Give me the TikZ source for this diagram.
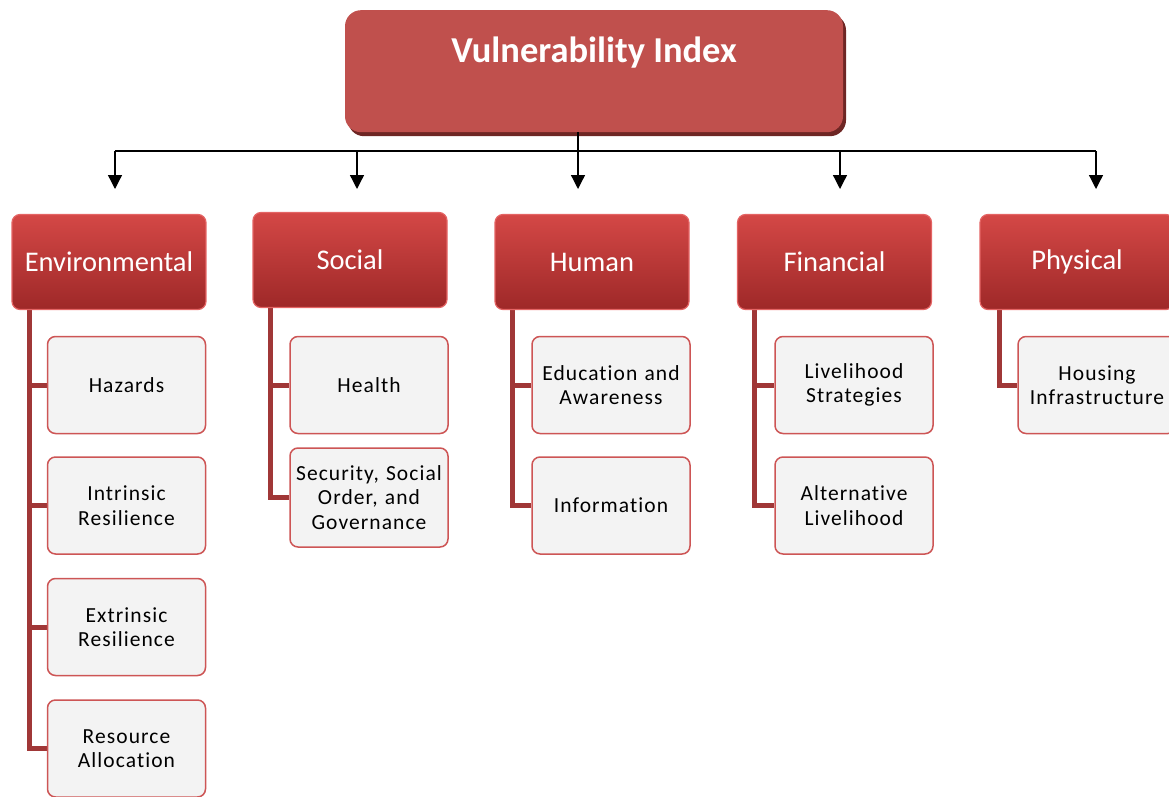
\documentclass[tikz,border=0pt]{standalone}
\usepackage{fontspec}
\setmainfont{Carlito}[Ligatures=NoCommon]
\newfontfamily\childfont{Carlito}[LetterSpace=5, Ligatures=NoCommon]
\usetikzlibrary{shadows,arrows.meta,calc,backgrounds}
\definecolor{topred}{RGB}{192,80,77}
\definecolor{topshadow}{RGB}{110,38,36}
\definecolor{catTop}{RGB}{212,72,70}
\definecolor{catBot}{RGB}{158,40,40}
\definecolor{catBorder}{RGB}{228,100,100}
\definecolor{childFill}{RGB}{243,243,243}
\definecolor{childBorder}{RGB}{205,85,85}
\definecolor{branchRed}{RGB}{160,55,55}
\begin{document}
\begin{tikzpicture}[x=1pt,y=-1pt,
  topbox/.style={rounded corners=16pt, fill=topred, draw=none,
    drop shadow={shadow xshift=3pt, shadow yshift=-4pt, opacity=1, fill=topshadow},
    minimum width=498pt, inner ysep=24pt, text height=28pt, text depth=46pt,
    font=\bfseries\fontsize{36.5}{40}\selectfont, text=white, align=center, anchor=north},
  catbox/.style={rounded corners=8pt, top color=catTop, bottom color=catBot,
    draw=catBorder, line width=1.2pt, minimum width=194pt, minimum height=95pt,
    font=\fontsize{28.5}{32}\selectfont, text=white},
  childbox/.style={rounded corners=8pt, fill=childFill, draw=childBorder,
    line width=1.5pt, minimum width=158pt, minimum height=97pt,
    font=\childfont\fontsize{21.5}{24.5}\selectfont, align=center, text width=154pt, inner xsep=2pt},
  branch/.style={draw=branchRed, line width=5pt},
  busline/.style={draw=black, line width=1.3pt},
  arr/.style={draw=black, line width=1.3pt, -{Triangle[width=14pt,length=14pt]}}
]
\useasboundingbox (0,0) rectangle (1169,797);

% top
\node[topbox] (vi) at (594,10) {Vulnerability Index};

% categories
\node[catbox] (env) at (109,262) {Environmental};
\node[catbox] (soc) at (350,260) {Social};
\node[catbox] (hum) at (592,262) {Human};
\node[catbox] (fin) at (834.5,262) {Financial};
\node[catbox] (phy) at (1077,262) {Physical};

% children
\node[childbox] (haz) at (126.5,385) {Hazards};
\node[childbox] (intr) at (126.5,505.5) {Intrinsic\\Resilience};
\node[childbox] (extr) at (126.5,627) {Extrinsic\\Resilience};
\node[childbox] (res) at (126.5,748.5) {Resource\\Allocation};

\node[childbox] (hea) at (369,385) {Health};
\node[childbox, minimum height=99pt] (sec) at (369,497.5) {Security, Social\\Order, and\\Governance};

\node[childbox] (edu) at (611,385) {Education and\\Awareness};
\node[childbox] (inf) at (611,505.5) {Information};

\node[childbox] (liv) at (854,385) {Livelihood\\Strategies};
\node[childbox] (alt) at (854,505.5) {Alternative\\Livelihood};

\node[childbox] (hou) at (1097,385) {Housing\\Infrastructure};

% bus and arrows
\coordinate (b1) at (115,151);
\coordinate (b2) at (357,151);
\coordinate (b3) at (578,151);
\coordinate (b4) at (840,151);
\coordinate (b5) at (1096,151);
\coordinate (t1) at (115,189);
\coordinate (t2) at (357,189);
\coordinate (t3) at (578,189);
\coordinate (t4) at (840,189);
\coordinate (t5) at (1096,189);
\draw[busline] (b1) -- (b5);
\draw[busline] (vi.south -| b3) -- (b3);
\foreach \i in {1,...,5} {\draw[arr] (b\i) -- (t\i);}

% branches
\begin{scope}[on background layer]
  \foreach \c in {haz,intr,extr,res} {\draw[branch] ([xshift=18pt,yshift=4pt]env.south west) |- (\c.west);}
  \foreach \c in {hea,sec} {\draw[branch] ([xshift=18pt,yshift=4pt]soc.south west) |- (\c.west);}
  \foreach \c in {edu,inf} {\draw[branch] ([xshift=18pt,yshift=4pt]hum.south west) |- (\c.west);}
  \foreach \c in {liv,alt} {\draw[branch] ([xshift=18pt,yshift=4pt]fin.south west) |- (\c.west);}
  \draw[branch] ([xshift=20pt,yshift=4pt]phy.south west) |- (hou.west);
\end{scope}
\end{tikzpicture}
\end{document}
